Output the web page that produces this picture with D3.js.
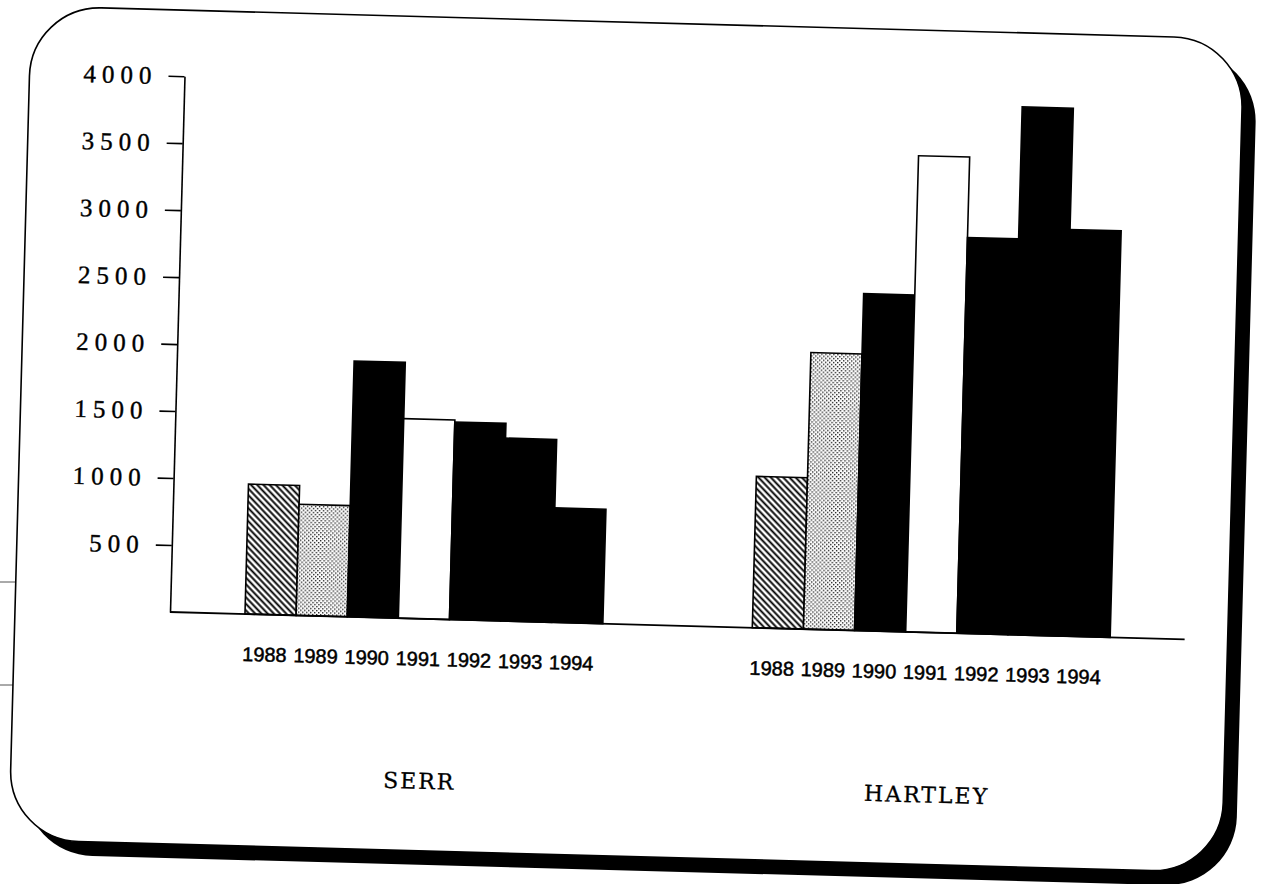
<!DOCTYPE html>
<html>
<head>
  <meta charset="UTF-8">
  <title>SERR / HARTLEY 1988-1994</title>
  <script src="https://d3js.org/d3.v7.min.js"></script>
  <style>
    body {
      margin: 0;
      background: #fff;
    }
    .y-axis text {
      font-family: "Liberation Serif", serif;
      font-size: 25px;
      letter-spacing: 6px;
      fill: #000;
      stroke: #000;
      stroke-width: 0.4;
    }
    .y-axis path, .y-axis line {
      stroke: #000;
      stroke-width: 1.6;
    }
    .baseline {
      stroke: #000;
      stroke-width: 1.8;
    }
    .bar {
      stroke: #000;
      stroke-width: 1.6;
    }
    .year-label {
      font-family: "Liberation Sans", Arial, sans-serif;
      font-size: 20px;
      fill: #000;
      stroke: #000;
      stroke-width: 0.5;
    }
    .group-label {
      font-family: "DejaVu Serif", serif;
      font-size: 22px;
      letter-spacing: 2px;
      fill: #000;
      stroke: #000;
      stroke-width: 0.3;
    }
    .crop {
      stroke: #555;
      stroke-width: 1;
    }
  </style>
</head>
<body>
  <div id="chart"></div>
  <script>
    const groups = ["SERR", "HARTLEY"];
    const years = ["1988", "1989", "1990", "1991", "1992", "1993", "1994"];
    const serr = [970, 830, 1910, 1490, 1475, 1365, 855];
    const hartley = [1130, 2065, 2515, 3555, 2955, 3940, 3035];
    const yTicks = [500, 1000, 1500, 2000, 2500, 3000, 3500, 4000];

    const seriesByGroup = { SERR: serr, HARTLEY: hartley };

    // fill for each year, like the old black & white printout
    const yearFill = {
      "1988": "url(#hatch)",
      "1989": "url(#stipple)",
      "1990": "#000",
      "1991": "#fff",
      "1992": "#000",
      "1993": "#000",
      "1994": "#000"
    };

    const W = 1267, H = 884;
    // the scanned page is a little skewed, so the whole drawing is turned
    const origin = { x: 170, y: 612 };
    const tilt = 1.55;
    const plotW = 1015, plotH = 536;

    const svg = d3.select("#chart")
      .append("svg")
      .attr("width", W)
      .attr("height", H);

    svg.append("rect").attr("width", W).attr("height", H).attr("fill", "#fff");

    const defs = svg.append("defs");

    const hatch = defs.append("pattern")
      .attr("id", "hatch")
      .attr("patternUnits", "userSpaceOnUse")
      .attr("width", 4.5)
      .attr("height", 4.5)
      .attr("patternTransform", "rotate(-45)");
    hatch.append("rect").attr("width", 4.5).attr("height", 4.5).attr("fill", "#fff");
    hatch.append("line")
      .attr("x1", 2.25).attr("y1", 0).attr("x2", 2.25).attr("y2", 4.5)
      .attr("stroke", "#000").attr("stroke-width", 1.9);

    const stipple = defs.append("pattern")
      .attr("id", "stipple")
      .attr("patternUnits", "userSpaceOnUse")
      .attr("width", 4)
      .attr("height", 4);
    stipple.append("rect").attr("width", 4).attr("height", 4).attr("fill", "#fff");
    stipple.append("rect").attr("x", 0).attr("y", 0).attr("width", 1.4).attr("height", 1.4).attr("fill", "#222");
    stipple.append("rect").attr("x", 2).attr("y", 2).attr("width", 1.4).attr("height", 1.4).attr("fill", "#222");

    // crop marks on the scan
    svg.append("line").attr("class", "crop").attr("x1", 0).attr("x2", 28).attr("y1", 582).attr("y2", 582);
    svg.append("line").attr("class", "crop").attr("x1", 0).attr("x2", 25).attr("y1", 685).attr("y2", 685);
    svg.append("line").attr("class", "crop").attr("x1", 1150).attr("x2", 1176).attr("y1", 578).attr("y2", 578)
      .attr("stroke-dasharray", "3,2");

    const g = svg.append("g")
      .attr("transform", `translate(${origin.x},${origin.y}) rotate(${tilt})`);

    // rounded frame with drop shadow
    const frame = { x: -155, y: -602, w: 1213, h: 834, r: 70, shadow: 14 };
    g.append("rect")
      .attr("x", frame.x + frame.shadow).attr("y", frame.y + frame.shadow)
      .attr("width", frame.w).attr("height", frame.h)
      .attr("rx", frame.r).attr("ry", frame.r)
      .attr("fill", "#000");
    g.append("rect")
      .attr("x", frame.x).attr("y", frame.y)
      .attr("width", frame.w).attr("height", frame.h)
      .attr("rx", frame.r).attr("ry", frame.r)
      .attr("fill", "#fff")
      .attr("stroke", "#000")
      .attr("stroke-width", 1.6);

    const yScale = d3.scaleLinear()
      .domain([0, 4000])
      .range([0, -plotH]);

    const x0 = d3.scaleBand()
      .domain(groups)
      .range([0, plotW]);

    const x1 = d3.scaleBand()
      .domain(years)
      .range([75, 433]);

    const barData = groups.flatMap(grp =>
      years.map((yr, i) => ({ group: grp, year: yr, value: seriesByGroup[grp][i] }))
    );

    g.selectAll(".bar")
      .data(barData)
      .enter()
      .append("rect")
      .attr("class", "bar")
      .attr("x", d => x0(d.group) + x1(d.year))
      .attr("y", d => yScale(d.value))
      .attr("width", x1.bandwidth())
      .attr("height", d => yScale(0) - yScale(d.value))
      .attr("fill", d => yearFill[d.year]);

    g.append("line")
      .attr("class", "baseline")
      .attr("x1", x0.range()[0])
      .attr("x2", x0.range()[1])
      .attr("y1", yScale(0))
      .attr("y2", yScale(0));

    const yAxis = d3.axisLeft(yScale)
      .tickValues(yTicks)
      .tickSize(16)
      .tickSizeOuter(0)
      .tickPadding(11)
      .tickFormat(d => d);

    g.append("g")
      .attr("class", "y-axis")
      .call(yAxis)
      .attr("font-family", null)
      .attr("font-size", null);

    g.selectAll(".year-label")
      .data(barData)
      .enter()
      .append("text")
      .attr("class", "year-label")
      .attr("x", d => x0(d.group) + x1(d.year) + x1.bandwidth() / 2 - 5)
      .attr("y", 47)
      .attr("text-anchor", "middle")
      .text(d => d.year);

    g.selectAll(".group-label")
      .data(groups)
      .enter()
      .append("text")
      .attr("class", "group-label")
      .attr("x", d => x0(d) + x0.bandwidth() / 2)
      .attr("y", 170)
      .attr("text-anchor", "middle")
      .text(d => d);
  </script>
</body>
</html>
